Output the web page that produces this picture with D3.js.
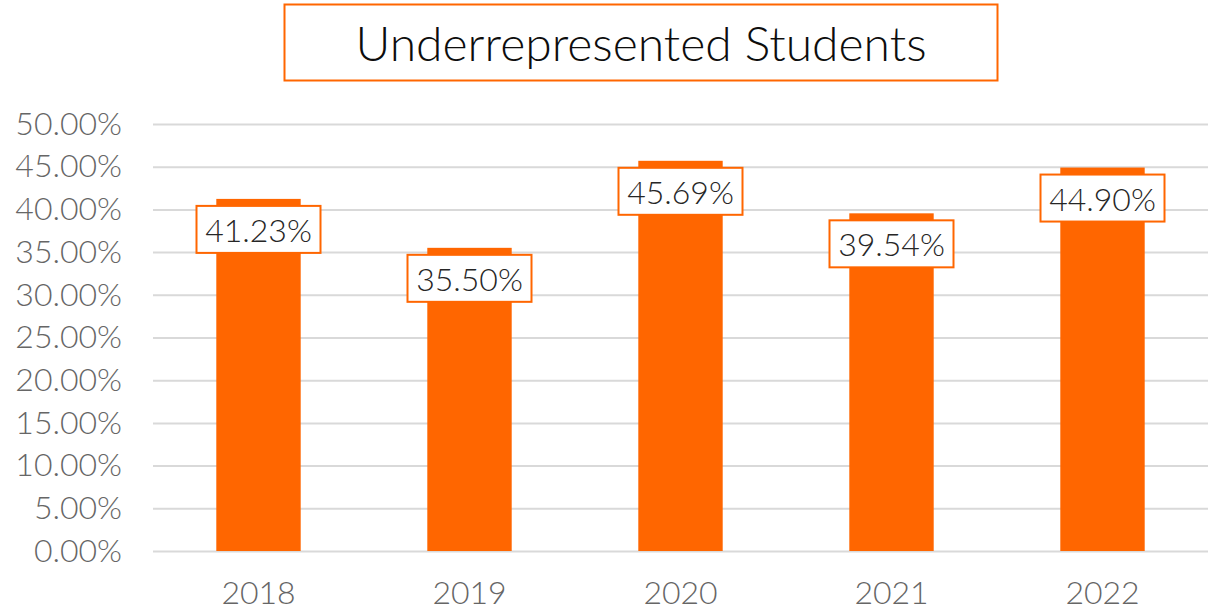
<!DOCTYPE html>
<head>
    <meta charset="utf-8">
    <title>Underrepresented Students</title>
    <script src="https://d3js.org/d3.v7.min.js"></script>
    <style>
        body { margin: 0; background: #fff; }
        text { font-family: Lato, "Open Sans", sans-serif; font-weight: 300; }
    </style>
</head>
<body>
<div id="container"></div>
<script>
    //-----------------------------DATA-----------------------------//
    const years = ["2018", "2019", "2020", "2021", "2022"];
    const shares = [41.23, 35.50, 45.69, 39.54, 44.90];
    const yTicks = [0, 5, 10, 15, 20, 25, 30, 35, 40, 45, 50];
    const title = "Underrepresented Students";

    //-----------------------------SVG------------------------------//
    const width = 1223;
    const height = 611;
    const orange = "#ff6600";

    const svg = d3.select("#container").append("svg")
        .attr("width", width)
        .attr("height", height);

    //----------------------------SCALES----------------------------//
    const xScale = d3.scaleBand()
        .domain(years)
        .range([153, 1208])
        .paddingInner(0.6)
        .paddingOuter(0.3);

    const yScale = d3.scaleLinear()
        .domain([0, 50])
        .range([551, 124]);

    //----------------------------TITLE-----------------------------//
    svg.append("rect")
        .attr("x", 284.5)
        .attr("y", 4.5)
        .attr("width", 713)
        .attr("height", 76)
        .attr("fill", "#fff")
        .attr("stroke", orange)
        .attr("stroke-width", 2);

    svg.append("text")
        .attr("x", 641)
        .attr("y", 61)
        .attr("text-anchor", "middle")
        .attr("font-size", 48)
        .attr("fill", "#0d0d0d")
        .text(title);

    //-----------------------------AXES-----------------------------//
    const yaxis = d3.axisLeft(yScale)
        .tickValues(yTicks)
        .tickSize(-(1208 - 153))
        .tickPadding(31)
        .tickFormat(d => d.toFixed(2) + "%");

    const gy = svg.append("g")
        .attr("transform", "translate(153,0)")
        .call(yaxis);
    gy.select(".domain").remove();
    gy.selectAll(".tick line")
        .attr("stroke", "#d9d9d9")
        .attr("stroke-width", 2);
    gy.selectAll(".tick text")
        .attr("font-size", 32)
        .attr("fill", "#666666");

    const xaxis = d3.axisBottom(xScale)
        .tickSize(0)
        .tickPadding(30);

    const gx = svg.append("g")
        .attr("transform", "translate(0,551)")
        .call(xaxis);
    gx.select(".domain").remove();
    gx.selectAll(".tick text")
        .attr("font-size", 32)
        .attr("fill", "#666666");

    //-----------------------------BARS-----------------------------//
    const data = years.map((y, i) => ({ year: y, value: shares[i] }));

    svg.append("g").selectAll("rect")
        .data(data)
        .enter()
        .append("rect")
        .attr("x", d => xScale(d.year))
        .attr("y", d => yScale(d.value))
        .attr("width", xScale.bandwidth())
        .attr("height", d => yScale(0) - yScale(d.value))
        .attr("fill", orange);

    //----------------------------LABELS----------------------------//
    const labels = svg.append("g").selectAll("g")
        .data(data)
        .enter()
        .append("g")
        .attr("transform", d => "translate(" + (xScale(d.year) + xScale.bandwidth() / 2) + "," + (yScale(d.value) + 7) + ")");

    labels.append("rect")
        .attr("x", -62)
        .attr("y", 0)
        .attr("width", 124)
        .attr("height", 47)
        .attr("fill", "#fff")
        .attr("stroke", orange)
        .attr("stroke-width", 2);

    labels.append("text")
        .attr("x", 0)
        .attr("y", 36)
        .attr("text-anchor", "middle")
        .attr("font-size", 32)
        .attr("fill", "#262626")
        .text(d => d.value.toFixed(2) + "%");
</script>
</body>
